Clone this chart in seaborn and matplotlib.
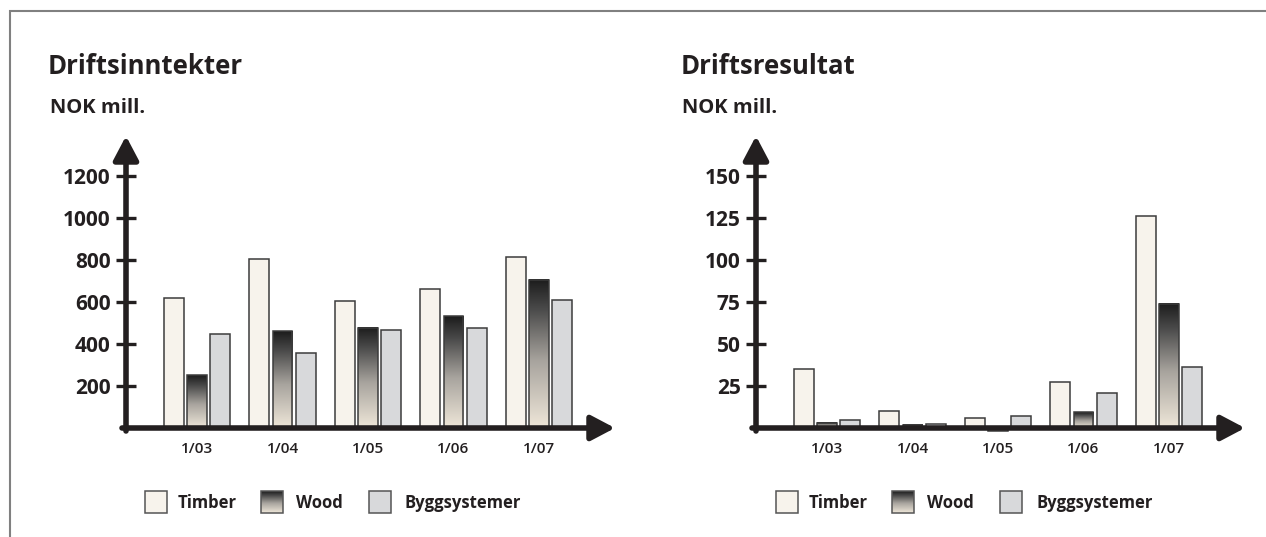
import matplotlib
matplotlib.use('Agg')
import matplotlib.pyplot as plt
import numpy as np
import pandas as pd
import seaborn as sns
from matplotlib.colors import LinearSegmentedColormap, to_rgb
from matplotlib.patches import Rectangle

# Data
periods = ['1/03', '1/04', '1/05', '1/06', '1/07']
segments = ['Timber', 'Wood', 'Byggsystemer']

inntekter_timber = [620, 803, 606, 660, 813]
inntekter_wood = [252, 460, 478, 533, 706]
inntekter_bygg = [449, 359, 465, 476, 611]

resultat_timber = [35, 10, 6, 27.5, 126]
resultat_wood = [3, 2, -2, 9.5, 74]
resultat_bygg = [5, 2.5, 7, 21, 36.5]

inntekter_ticks = [200, 400, 600, 800, 1000, 1200]
resultat_ticks = [25, 50, 75, 100, 125, 150]

W, H = 1266, 537
DARK = '#231f20'
EDGE = '#3c3c3c'
WOOD_KEY = '#808080'
palette = {'Timber': '#f7f3ec', 'Wood': WOOD_KEY, 'Byggsystemer': '#d8d9db'}
wood_cmap = LinearSegmentedColormap.from_list(
    'wood', [(0, '#efe7d9'), (0.45, '#a8a49e'), (0.8, '#4a4a4a'), (1, '#1c1c1c')])
grad = np.linspace(0, 1, 256).reshape(-1, 1)


def make_df(timber, wood, bygg):
    rows = []
    for seg, vals in zip(segments, [timber, wood, bygg]):
        for p, v in zip(periods, vals):
            rows.append({'period': p, 'segment': seg, 'value': v})
    return pd.DataFrame(rows)


sns.set_style('white')
plt.rcParams['font.family'] = ['Open Sans', 'DejaVu Sans']

fig = plt.figure(figsize=(W / 100, H / 100), dpi=100)


def px_axes(x0, y0, x1, y1):
    return fig.add_axes([x0 / W, 1 - y1 / H, (x1 - x0) / W, (y1 - y0) / H])


def draw_chart(box, df, zero_px, scale, ticks):
    x0, y0, x1, y1 = box
    ax = px_axes(*box)
    sns.barplot(data=df, x='period', y='value', hue='segment', order=periods,
                hue_order=segments, palette=palette, saturation=1, width=0.81,
                gap=0.14, edgecolor=EDGE, linewidth=1.1, legend=False, ax=ax)

    xlim = (-(197 - 126) / 85.5, (615 - 197) / 85.5)
    ylim = ((zero_px - y1) / scale, (zero_px - y0) / scale)

    # gradient fill for the Wood bars
    for p in list(ax.patches):
        if np.allclose(p.get_facecolor()[:3], to_rgb(WOOD_KEY), atol=0.01):
            bx, by, bw, bh = p.get_x(), p.get_y(), p.get_width(), p.get_height()
            lo, hi = min(by, by + bh), max(by, by + bh)
            ax.imshow(grad, extent=[bx, bx + bw, lo, hi], origin='lower',
                      cmap=wood_cmap, aspect='auto', zorder=0.9)
            p.set_facecolor('none')

    ax.set_xlim(*xlim)
    ax.set_ylim(*ylim)
    ax.set_xlabel('')
    ax.set_ylabel('')
    ax.set_yticks(ticks)
    ax.set_yticklabels([str(t) for t in ticks])
    sns.despine(ax=ax, left=True, bottom=True)
    ax.tick_params(axis='y', left=True, direction='inout', length=14, width=2.4,
                   color=DARK, pad=4, labelsize=15, labelcolor=DARK)
    ax.tick_params(axis='x', bottom=False, length=0, pad=1.5, labelsize=11,
                   labelcolor=DARK)
    for lab in ax.get_yticklabels():
        lab.set_fontweight('bold')
    for lab in ax.get_xticklabels():
        lab.set_fontweight('semibold')

    arrow = dict(arrowstyle='-|>,head_length=0.72,head_width=0.38',
                 mutation_scale=20, lw=4, color=DARK, shrinkA=0, shrinkB=0)
    ax.annotate('', xy=(xlim[1], 0), xytext=(xlim[0] - 4 / 85.5, 0),
                arrowprops=arrow, annotation_clip=False)
    ax.annotate('', xy=(xlim[0], ylim[1]), xytext=(xlim[0], -3 / scale),
                arrowprops=arrow, annotation_clip=False)
    return ax


draw_chart((126, 136, 615, 440), make_df(inntekter_timber, inntekter_wood, inntekter_bygg),
           428, 0.21, inntekter_ticks)
draw_chart((756, 136, 1245, 440), make_df(resultat_timber, resultat_wood, resultat_bygg),
           428, 1.68, resultat_ticks)

# overlay in pixel coordinates: frame, titles, legends
ov = fig.add_axes([0, 0, 1, 1], zorder=5)
ov.set_xlim(0, W)
ov.set_ylim(H, 0)
ov.axis('off')
ov.plot([9.5, 9.5, W], [H, 11, 11], color='#808080', lw=1.5, solid_joinstyle='miter')

for x, title in [(48, 'Driftsinntekter'), (681, 'Driftsresultat')]:
    ov.text(x, 74, title, fontsize=18.5, fontweight='bold', color=DARK, va='baseline')
    ov.text(x + 1.5, 113, 'NOK mill.', fontsize=14.5, fontweight='bold', color=DARK,
            va='baseline')

legend_pos = [
    [(145, 178), (261, 296), (369, 405)],
    [(776, 809), (892, 927), (1000, 1036)],
]
for group in legend_pos:
    for seg, (bx, tx) in zip(segments, group):
        if seg == 'Wood':
            ov.imshow(grad, extent=[bx, bx + 22, 513, 491], origin='lower',
                      cmap=wood_cmap, aspect='auto', zorder=1)
            fc = 'none'
        else:
            fc = palette[seg]
        ov.add_patch(Rectangle((bx, 491), 22, 22, facecolor=fc, edgecolor='#555555',
                               lw=1.1, zorder=2))
        ov.text(tx, 508, seg, fontsize=12, fontweight='bold', color=DARK, va='baseline')
ov.set_xlim(0, W)
ov.set_ylim(H, 0)

fig.savefig('out.png', dpi=100)
